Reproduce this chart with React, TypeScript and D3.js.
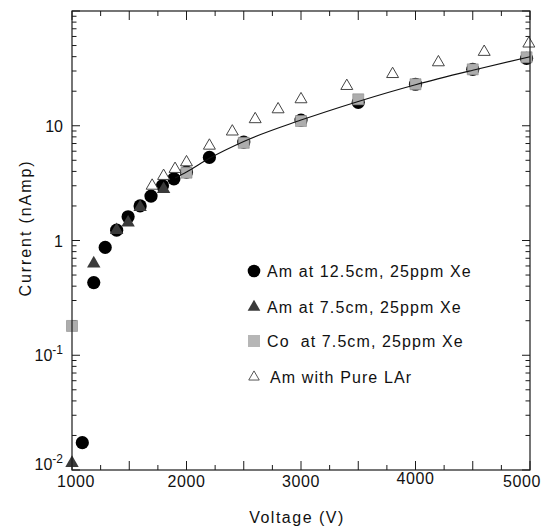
import React from 'react';
import * as d3 from 'd3';

// Am at 12.5cm, 25ppm Xe (black circles)
const amFarVoltage = [1090, 1190, 1290, 1390, 1490, 1595, 1690, 1790, 1890, 2000, 2200, 2500, 3000, 3500, 4000, 4500, 4970];
const amFarCurrent = [0.0173, 0.43, 0.87, 1.23, 1.61, 2.0, 2.44, 3.0, 3.45, 3.95, 5.3, 7.2, 11.2, 16.0, 23, 31, 38.7];

// Am at 7.5cm, 25ppm Xe (dark triangles)
const amNearVoltage = [1000, 1190, 1390, 1490, 1595, 1800];
const amNearCurrent = [0.0115, 0.63, 1.23, 1.43, 1.95, 2.8];

// Co at 7.5cm, 25ppm Xe (grey squares)
const coVoltage = [1000, 2000, 2500, 3000, 3500, 4000, 4500, 4970];
const coCurrent = [0.18, 3.9, 7.1, 11.0, 17.0, 23, 31, 39.5];

// Am with Pure LAr (open triangles)
const larVoltage = [1700, 1800, 1900, 2000, 2200, 2400, 2600, 2800, 3000, 3400, 3800, 4200, 4600, 4990];
const larCurrent = [3.0, 3.65, 4.2, 4.8, 6.7, 8.9, 11.4, 13.9, 17.0, 22.2, 28.2, 35.7, 44, 52];

// fitted curve
const fitVoltage = [1900, 2000, 2200, 2500, 3000, 3500, 4000, 4500, 5000];
const fitCurrent = [3.5, 3.95, 5.2, 7.3, 11.2, 16.3, 22.8, 30.5, 40];

const xTickLabels = [1000, 2000, 3000, 4000, 5000];
const yTickLabels: [number, string, string][] = [
  [10, '10', ''],
  [1, '1', ''],
  [0.1, '10', '-1'],
  [0.01, '10', '-2'],
];
const legendLabels = [
  'Am at 12.5cm, 25ppm Xe',
  'Am at 7.5cm, 25ppm Xe',
  'Co  at 7.5cm, 25ppm Xe',
  'Am with Pure LAr',
];

const W = 548;
const H = 527;
const L = 72, R = 530, T = 11, B = 470;
const FONT = '"Liberation Sans", Arial, Helvetica, sans-serif';

export default function App() {
  const x = d3.scaleLinear().domain([1000, 5000]).range([L, R]);
  const y = d3.scaleLog().domain([0.01, 100]).range([B, T]);

  const xMajor = d3.range(1000, 5001, 500);
  const xMinor = d3.range(1250, 5000, 500);
  const yAll = y.ticks();
  const isMajor = (v: number) => Math.abs(Math.log10(v) - Math.round(Math.log10(v))) < 1e-6;
  const yMajor = yAll.filter(isMajor);
  const yMinor = yAll.filter((v) => !isMajor(v));

  const triPath = d3.symbol(d3.symbolTriangle, 78)()!;
  const openTriPath = d3.symbol(d3.symbolTriangle, 62)()!;
  const sqPath = d3.symbol(d3.symbolSquare, 121)()!;
  const legTri = d3.symbol(d3.symbolTriangle, 70)()!;
  const legOpenTri = d3.symbol(d3.symbolTriangle, 48)()!;

  const fitLine = d3
    .line<number>()
    .x((_, i) => x(fitVoltage[i]))
    .y((d) => y(d))
    .curve(d3.curveMonotoneX)(fitCurrent)!;

  const axisColor = '#1a1a1a';
  const legendY = [271, 307, 341, 377];

  return (
    <div style={{ position: 'absolute', left: 0, top: 0 }}>
      <svg width={W} height={H} style={{ display: 'block', background: '#fff' }} fontFamily={FONT}>
        <rect x={0} y={0} width={W} height={H} fill="#fff" />
        {/* ticks */}
        <g stroke={axisColor} strokeWidth={1}>
          {xMajor.map((v) => (
            <g key={'xM' + v}>
              <line x1={x(v)} x2={x(v)} y1={B} y2={B - 9} />
              <line x1={x(v)} x2={x(v)} y1={T} y2={T + 9} />
            </g>
          ))}
          {xMinor.map((v) => (
            <g key={'xm' + v}>
              <line x1={x(v)} x2={x(v)} y1={B} y2={B - 5} />
              <line x1={x(v)} x2={x(v)} y1={T} y2={T + 5} />
            </g>
          ))}
          {yMajor.map((v) => (
            <g key={'yM' + v}>
              <line x1={L} x2={L + 8} y1={y(v)} y2={y(v)} />
              <line x1={R} x2={R - 8} y1={y(v)} y2={y(v)} />
            </g>
          ))}
          {yMinor.map((v) => (
            <g key={'ym' + v}>
              <line x1={L} x2={L + 4.5} y1={y(v)} y2={y(v)} />
              <line x1={R} x2={R - 4.5} y1={y(v)} y2={y(v)} />
            </g>
          ))}
        </g>

        {/* data: circles */}
        <g fill="#000">
          {amFarVoltage.map((v, i) => (
            <circle key={'c' + i} cx={x(v)} cy={y(amFarCurrent[i])} r={6.6} />
          ))}
        </g>
        {/* dark triangles */}
        <g fill="#3a3a3a">
          {amNearVoltage.map((v, i) => (
            <path key={'t' + i} d={triPath} transform={`translate(${x(v)},${y(amNearCurrent[i])})`} />
          ))}
        </g>
        {/* squares */}
        <g fill="#adadad" stroke="#8a8a8a" strokeWidth={0.6}>
          {coVoltage.map((v, i) => (
            <path key={'s' + i} d={sqPath} transform={`translate(${x(v)},${y(coCurrent[i])})`} />
          ))}
        </g>
        {/* fit line */}
        <path d={fitLine} fill="none" stroke="#111" strokeWidth={1.1} />
        {/* open triangles */}
        <g fill="#fff" stroke="#444" strokeWidth={1}>
          {larVoltage.map((v, i) => (
            <path key={'o' + i} d={openTriPath} transform={`translate(${x(v)},${y(larCurrent[i])})`} />
          ))}
        </g>

        {/* frame */}
        <rect x={L} y={T} width={R - L} height={B - T} fill="none" stroke={axisColor} strokeWidth={1.2} />

        {/* x tick labels */}
        <g fontSize={16} fill="#111" textAnchor="middle" letterSpacing={0.6}>
          {xTickLabels.map((v) => (
            <text key={'xl' + v} x={Math.min(Math.max(x(v), 76), 522)} y={v === 4000 ? 484 : 487}>
              {v}
            </text>
          ))}
        </g>
        {/* y tick labels */}
        <g fontSize={16} fill="#111" textAnchor="end">
          {yTickLabels.map(([v, base, sup]) => (
            <text key={'yl' + v} x={63} y={Math.min(y(v), 464) + 6}>
              <tspan>{base}</tspan>
              {sup && (
                <tspan dy={-7} fontSize={12}>
                  {sup}
                </tspan>
              )}
            </text>
          ))}
        </g>

        {/* axis titles */}
        <text x={297} y={523} fontSize={16} fill="#111" textAnchor="middle" letterSpacing={1.5}>
          Voltage (V)
        </text>
        <text
          transform="translate(31,228) rotate(-90)"
          fontSize={16}
          fill="#111"
          textAnchor="middle"
          letterSpacing={1.9}
        >
          Current (nAmp)
        </text>

        {/* legend */}
        <g>
          <circle cx={254} cy={legendY[0]} r={6.3} fill="#000" />
          <path d={legTri} transform={`translate(254,${legendY[1]})`} fill="#3a3a3a" />
          <rect x={248} y={legendY[2] - 6} width={12} height={12} fill="#b6b6b6" />
          <path d={legOpenTri} transform={`translate(254,${legendY[3]})`} fill="#fff" stroke="#444" strokeWidth={0.9} />
          {legendLabels.map((t, i) => (
            <text
              key={'lg' + i}
              x={i === 3 ? 270 : 267}
              y={legendY[i] + 6}
              fontSize={16}
              fill="#111"
              letterSpacing={1.1}
              style={{ whiteSpace: 'pre' }}
            >
              {t}
            </text>
          ))}
        </g>
      </svg>
    </div>
  );
}
